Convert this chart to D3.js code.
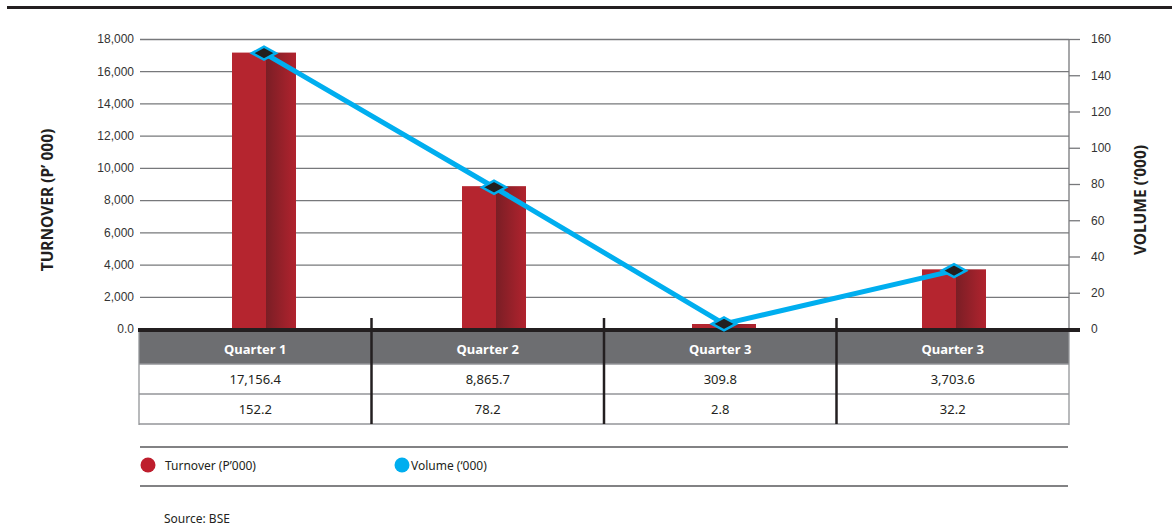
<!DOCTYPE html>
<html>
<head>
<meta charset="utf-8">
<script src="https://cdn.jsdelivr.net/npm/d3@7"></script>
<style>
  html, body { margin: 0; padding: 0; background: #fff; }
  svg { display: block; font-family: "Noto Sans", "Open Sans", sans-serif; }
</style>
</head>
<body>
<svg id="chart" width="1172" height="525"></svg>
<script>
// Quarterly turnover and volume
const categories = ["Quarter 1", "Quarter 2", "Quarter 3", "Quarter 3"];
const turnover = [17156.4, 8865.7, 309.8, 3703.6];
const volume = [152.2, 78.2, 2.8, 32.2];
const turnoverLabels = ["17,156.4", "8,865.7", "309.8", "3,703.6"];
const volumeLabels = ["152.2", "78.2", "2.8", "32.2"];
const leftTicks = [0, 2000, 4000, 6000, 8000, 10000, 12000, 14000, 16000, 18000];
const rightTicks = [0, 20, 40, 60, 80, 100, 120, 140, 160];

const svg = d3.select("#chart");
const plotLeft = 140, plotRight = 1069, plotTop = 39, plotBottom = 329;

const yL = d3.scaleLinear().domain([0, 18000]).range([plotBottom, plotTop]);
const yR = d3.scaleLinear().domain([0, 160]).range([plotBottom, plotTop]);
const x = d3.scalePoint().domain(d3.range(categories.length)).range([149, 1069]).padding(0.5);
const colX = d3.scaleBand().domain(d3.range(categories.length)).range([139, 1069]);

// top rule
svg.append("rect").attr("x", 7).attr("y", 6).attr("width", 1165).attr("height", 3).attr("fill", "#231f20");

// gradient for the shaded half of each bar
const defs = svg.append("defs");
const grad = defs.append("linearGradient").attr("id", "barShade").attr("x1", "0").attr("x2", "1");
grad.append("stop").attr("offset", "0").attr("stop-color", "#7a1e25");
grad.append("stop").attr("offset", "1").attr("stop-color", "#b1232e");

// gridlines + left axis
const leftAxis = d3.axisLeft(yL).tickValues(leftTicks)
  .tickFormat(d => d === 0 ? "0.0" : d3.format(",")(d))
  .tickSize(-(plotRight - plotLeft)).tickPadding(6);
const gL = svg.append("g").attr("transform", `translate(${plotLeft},0)`).call(leftAxis);
gL.select(".domain").remove();
gL.selectAll(".tick line").attr("stroke", "#77787b").attr("stroke-width", 1.3);
gL.selectAll(".tick text").attr("fill", "#333").attr("font-size", 12);

// right axis
const rightAxis = d3.axisRight(yR).tickValues(rightTicks).tickSize(11).tickPadding(11);
const gR = svg.append("g").attr("transform", `translate(${plotRight},0)`).call(rightAxis);
gR.select(".domain").attr("stroke", "#77787b").attr("stroke-width", 1.3).attr("d", `M0,${plotTop}V${plotBottom + 2}`);
gR.selectAll(".tick line").attr("stroke", "#77787b").attr("stroke-width", 1.3);
gR.selectAll(".tick text").attr("fill", "#333").attr("font-size", 12);

// bars
const barW = 64;
const bars = svg.append("g");
turnover.forEach((v, i) => {
  const cx = x(i);
  bars.append("rect").attr("x", cx - barW / 2).attr("y", yL(v))
    .attr("width", barW / 2 + 2).attr("height", yL(0) - yL(v)).attr("fill", "#b5252f");
  bars.append("rect").attr("x", cx + 2).attr("y", yL(v))
    .attr("width", barW / 2 - 2).attr("height", yL(0) - yL(v)).attr("fill", "url(#barShade)");
});

// table header and rows
const table = svg.append("g");
table.append("rect").attr("x", 139).attr("y", 332).attr("width", 930).attr("height", 32).attr("fill", "#6d6e71");
[364, 394, 424].forEach(y => {
  table.append("line").attr("x1", 139).attr("x2", 1069).attr("y1", y).attr("y2", y)
    .attr("stroke", "#939598").attr("stroke-width", 1.5);
});
[139, 1069].forEach(xx => {
  table.append("line").attr("x1", xx).attr("x2", xx).attr("y1", 332).attr("y2", 425)
    .attr("stroke", "#939598").attr("stroke-width", 1.3);
});
categories.forEach((c, i) => {
  const cx = colX(i) + colX.bandwidth() / 2;
  table.append("text").attr("x", cx).attr("y", 349).attr("text-anchor", "middle")
    .attr("dominant-baseline", "central").attr("fill", "#fff").attr("font-weight", "bold")
    .attr("font-size", 13).text(c);
  table.append("text").attr("x", cx).attr("y", 379).attr("text-anchor", "middle")
    .attr("dominant-baseline", "central").attr("fill", "#231f20").attr("font-size", 13).text(turnoverLabels[i]);
  table.append("text").attr("x", cx).attr("y", 409).attr("text-anchor", "middle")
    .attr("dominant-baseline", "central").attr("fill", "#231f20").attr("font-size", 13).text(volumeLabels[i]);
});
d3.range(1, categories.length).forEach(i => {
  table.append("line").attr("x1", colX(i)).attr("x2", colX(i)).attr("y1", 318).attr("y2", 424)
    .attr("stroke", "#231f20").attr("stroke-width", 2.5);
});

// baseline
svg.append("rect").attr("x", 138).attr("y", 328).attr("width", 942).attr("height", 4).attr("fill", "#231f20");

// volume line
const line = d3.line().x((d, i) => x(i)).y(d => yR(d));
svg.append("path").datum(volume).attr("d", line).attr("fill", "none")
  .attr("stroke", "#00aeef").attr("stroke-width", 5).attr("stroke-linejoin", "round");
svg.append("g").selectAll("path.marker").data(volume).join("path")
  .attr("class", "marker")
  .attr("transform", (d, i) => `translate(${x(i)},${yR(d)})`)
  .attr("d", "M-12,0L0,-6.5L12,0L0,6.5Z")
  .attr("fill", "#231f20").attr("stroke", "#00aeef").attr("stroke-width", 2.5);

// axis titles
svg.append("text").attr("transform", "translate(47,200) rotate(-90)")
  .attr("text-anchor", "middle").attr("dominant-baseline", "central")
  .attr("font-weight", "bold").attr("font-size", 15.5).attr("fill", "#231f20").text("TURNOVER (P’ 000)");
svg.append("text").attr("transform", "translate(1140,200) rotate(-90)")
  .attr("text-anchor", "middle").attr("dominant-baseline", "central")
  .attr("font-weight", "bold").attr("font-size", 15.5).attr("fill", "#231f20").text("VOLUME (‘000)");

// legend
const legend = svg.append("g");
[447, 486].forEach(y => {
  legend.append("line").attr("x1", 140).attr("x2", 1068).attr("y1", y).attr("y2", y)
    .attr("stroke", "#58595b").attr("stroke-width", 1.5);
});
const legendItems = [
  { label: "Turnover (P’000)", color: "#be1e2d", cx: 148, tx: 165 },
  { label: "Volume (‘000)", color: "#00aeef", cx: 402, tx: 411 }
];
legendItems.forEach(d => {
  legend.append("circle").attr("cx", d.cx).attr("cy", 465).attr("r", 7.5).attr("fill", d.color);
  legend.append("text").attr("x", d.tx).attr("y", 465).attr("dominant-baseline", "central")
    .attr("font-size", 12).attr("fill", "#231f20").text(d.label);
});

svg.append("text").attr("x", 164).attr("y", 518).attr("dominant-baseline", "central")
  .attr("font-size", 12).attr("fill", "#231f20").text("Source: BSE");
</script>
</body>
</html>
